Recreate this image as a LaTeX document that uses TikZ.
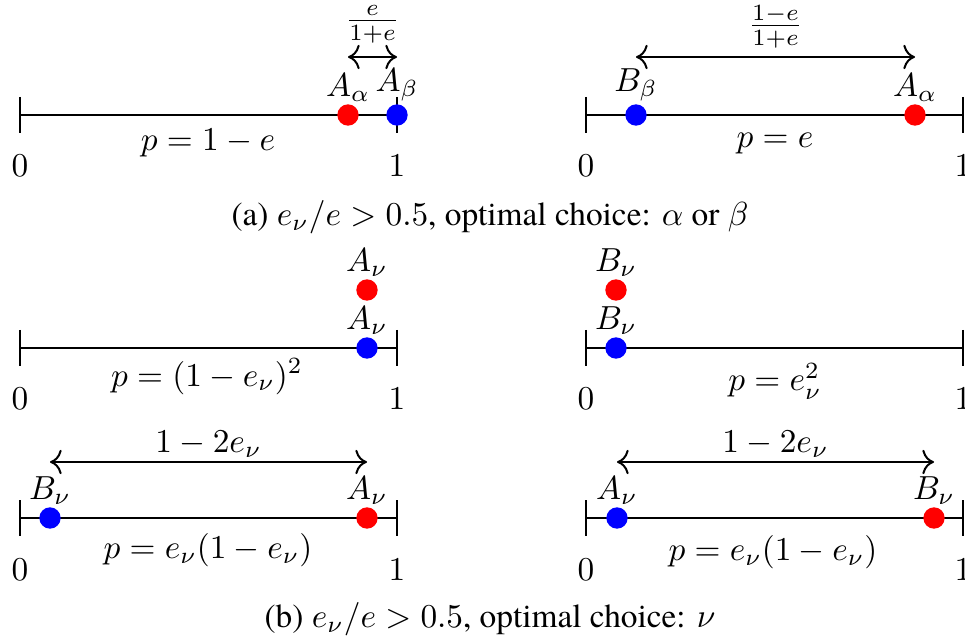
\documentclass[tikz,border=0pt]{standalone}
\usepackage{amsmath}
\usepackage{amssymb}
\usepackage{fontspec}
\setmainfont{TeX Gyre Termes}
\usetikzlibrary{arrows,arrows.meta}
\tikzstyle{axis} = [semithick]
\tikzstyle{reddot} = [circle, fill=red, minimum size=6.4pt, inner sep=0pt]
\tikzstyle{bluedot} = [circle, fill=blue, minimum size=6.4pt, inner sep=0pt]
\tikzstyle{dotlabel} = [inner sep=0.5pt]
\tikzstyle{gap} = [<->, >={To[scale=1.2]}, semithick]
\tikzstyle{caption} = [anchor=base]

\begin{document}
\begin{tikzpicture}[x=0.3pt, y=-0.3pt]
\useasboundingbox (0,0) rectangle (965,642);

% the six unit intervals
\foreach \n/\x/\y in {a/20/115, b/586/115, c/20/348, d/586/348, e/20/518, f/586/518} {
    \coordinate (\n0) at (\x,\y);
    \coordinate (\n1) at (\x+377,\y);
    \draw[axis] (\n0) -- (\n1);
    \draw[axis] ([yshift=5.4pt]\n0) -- ([yshift=-5.4pt]\n0);
    \draw[axis] ([yshift=5.4pt]\n1) -- ([yshift=-5.4pt]\n1);
    \node[anchor=base] (\n0lab) at (\x,\y+62) {$0$};
    \node[anchor=base] (\n1lab) at (\x+377,\y+62) {$1$};
}

% (a) left
\node[reddot, label={[dotlabel]above:$A_\alpha$}] (Aal) at (348,115) {};
\node[bluedot, label={[dotlabel]above:$A_\beta$}] (Abl) at (397,115) {};
\coordinate (gal) at (348,57);
\coordinate (gar) at (397,57);
\draw[gap] (gal) -- (gar);
\node[anchor=south, inner sep=0pt] (fa) at (372.5,44) {$\frac{e}{1+e}$};
\node[anchor=base] (pa) at (208,151) {$p=1-e$};

% (a) right
\node[bluedot, label={[dotlabel]above:$B_\beta$}] (Bbr) at (636,115) {};
\node[reddot, label={[dotlabel]above:$A_\alpha$}] (Aar) at (915,115) {};
\coordinate (gbl) at (636,57);
\coordinate (gbr) at (915,57);
\draw[gap] (gbl) -- (gbr);
\node[anchor=south, inner sep=0pt] (fb) at (775.5,49) {$\frac{1-e}{1+e}$};
\node[anchor=base] (pb) at (775,148) {$p=e$};

\node[caption] (capa) at (490,226) {(a) $e_\nu/e > 0.5$, optimal choice: $\alpha$ or $\beta$};

% (b) top left
\node[reddot, label={[dotlabel]above:$A_\nu$}] (Anc1) at (367,290) {};
\node[bluedot, label={[dotlabel]above:$A_\nu$}] (Anc2) at (367,348) {};
\node[anchor=base] (pc) at (207,386) {$p=(1-e_\nu)^2$};

% (b) top right
\node[reddot, label={[dotlabel]above:$B_\nu$}] (Bnd1) at (616,290) {};
\node[bluedot, label={[dotlabel]above:$B_\nu$}] (Bnd2) at (616,348) {};
\node[anchor=base] (pd) at (775,391) {$p=e_\nu^2$};

% (b) bottom left
\node[bluedot, label={[dotlabel]above:$B_\nu$}] (Bne) at (50,518) {};
\node[reddot, label={[dotlabel]above:$A_\nu$}] (Ane) at (367,518) {};
\coordinate (gel) at (50,462);
\coordinate (ger) at (367,462);
\draw[gap] (gel) -- node[above, inner sep=1pt] (le) {$1-2e_\nu$} (ger);
\node[anchor=base] (pe) at (208,558) {$p=e_\nu(1-e_\nu)$};

% (b) bottom right
\node[bluedot, label={[dotlabel]above:$A_\nu$}] (Anf) at (617,518) {};
\node[reddot, label={[dotlabel]above:$B_\nu$}] (Bnf) at (934,518) {};
\coordinate (gfl) at (617,462);
\coordinate (gfr) at (934,462);
\draw[gap] (gfl) -- node[above, inner sep=1pt] (lf) {$1-2e_\nu$} (gfr);
\node[anchor=base] (pf) at (773,560) {$p=e_\nu(1-e_\nu)$};

\node[caption] (capb) at (490,627) {(b) $e_\nu/e > 0.5$, optimal choice: $\nu$};
\end{tikzpicture}
\end{document}
